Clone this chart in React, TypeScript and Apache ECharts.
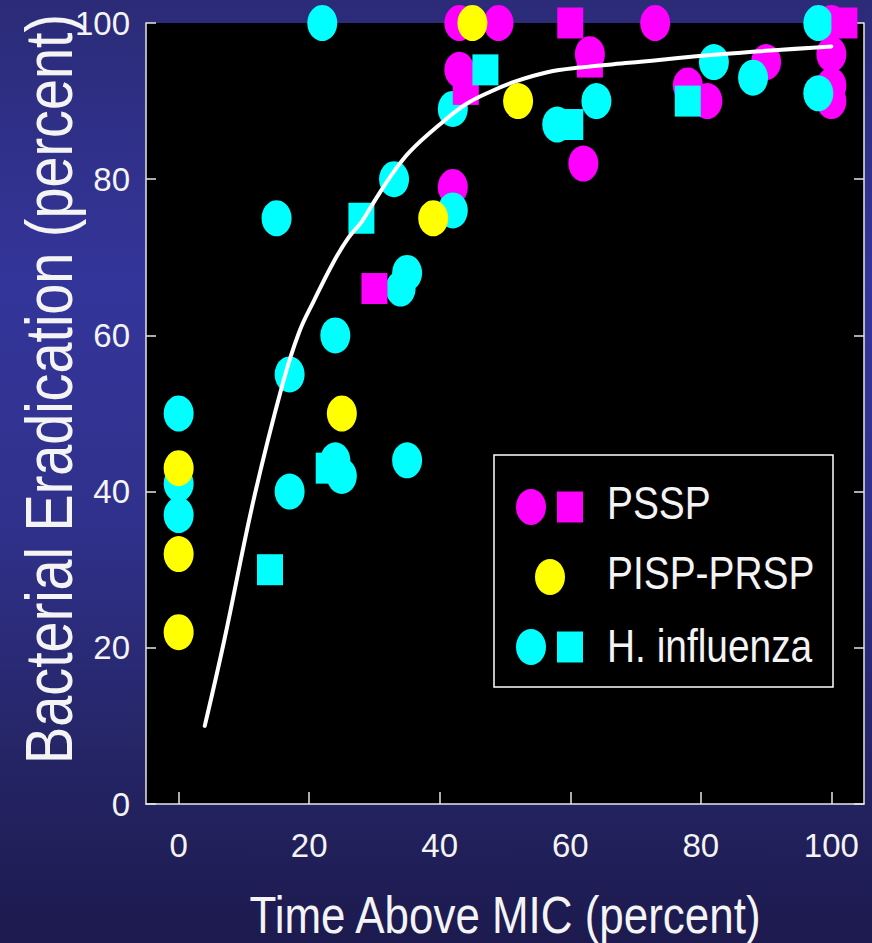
import React, { useEffect, useRef } from 'react';
import * as echarts from 'echarts';

const FONT = '"Liberation Sans", Arial, Helvetica, sans-serif';

const xTickValues = [0, 20, 40, 60, 80, 100];
const xTitle = 'Time Above MIC (percent)';
const yTitle = 'Bacterial Eradication (percent)';
const legendLabels = ['PSSP', 'PISP-PRSP', 'H. influenza'];

const psspCircles: number[][] = [
  [43, 100], [49, 100], [43, 94], [42, 79], [63, 96], [62, 82], [73, 100],
  [78, 92], [81, 90], [90, 95], [100, 100], [100, 96], [100, 92], [100, 90],
];
const psspSquares: number[][] = [
  [30, 66], [44, 91.5], [60, 100], [63, 95], [102, 100],
];
const pispCircles: number[][] = [
  [0, 43], [0, 32], [0, 22], [25, 50], [39, 75], [45, 100], [52, 90],
];
const hinfCircles: number[][] = [
  [22, 100], [15, 75], [33, 80], [42, 89], [42, 76], [35, 68], [34, 66],
  [58, 87], [64, 90], [82, 95], [88, 93], [98, 100], [98, 91], [24, 60],
  [17, 55], [0, 50], [0, 41], [0, 37], [24, 44], [25, 42], [35, 44], [17, 40],
];
const hinfSquares: number[][] = [
  [28, 75], [47, 94], [60, 87], [78, 90], [23, 43], [14, 30],
];
const fitCurve: number[][] = [
  [4, 10], [7, 21], [11.5, 39], [16, 54], [18.5, 60.5], [20.7, 64.4],
  [23.8, 69.5], [26, 72.5], [28, 74.5], [30, 77.2], [33, 81], [35.5, 83.6],
  [40, 87], [44, 89.6], [48, 91.3], [51.5, 92.5], [56.5, 93.7], [61.5, 94.3],
  [69, 94.9], [83, 96], [100, 97],
];

const MAGENTA = '#ff00ff';
const CYAN = '#00ffff';
const YELLOW = '#ffff00';
const AXIS_COLOR = '#e6e6e6';
const TEXT_COLOR = '#f4f4f4';

const ELLIPSE = [30, 36];
const SQUARE = [26, 31];
const NARROW = 0.845;

export default function App() {
  const ref = useRef<HTMLDivElement>(null);
  useEffect(() => {
    const chart = echarts.init(ref.current!, null, { renderer: 'svg' });
    const scatter = (name: string, data: number[][], color: string, symbol: string, size: number[], z: number) => ({
      type: 'scatter',
      name,
      data,
      symbol,
      symbolSize: size,
      clip: false,
      z,
      itemStyle: { color, opacity: 1 },
      emphasis: { disabled: true },
    });
    const legendText = (text: string, y: number) => ({
      type: 'text', x: 607, y, scaleX: NARROW,
      style: { text, fill: TEXT_COLOR, fontSize: 46, fontFamily: FONT, textVerticalAlign: 'middle' },
    });
    chart.setOption({
      animation: false,
      backgroundColor: 'transparent',
      textStyle: { fontFamily: FONT },
      grid: {
        left: 146, right: 8, top: 23, bottom: 139,
        show: true, backgroundColor: '#000000', borderWidth: 0,
      },
      xAxis: {
        type: 'value', min: -5, max: 105,
        splitLine: { show: false },
        axisLine: { show: true, onZero: false, lineStyle: { color: AXIS_COLOR, width: 1.5 } },
        axisTick: { show: true, inside: true, length: 12, customValues: xTickValues, lineStyle: { color: AXIS_COLOR, width: 1.5 } },
        axisLabel: { customValues: xTickValues, color: TEXT_COLOR, fontSize: 33, fontFamily: FONT, margin: 25 },
      },
      yAxis: [
        {
          type: 'value', min: 0, max: 100, interval: 20,
          splitLine: { show: false },
          axisLine: { show: true, onZero: false, lineStyle: { color: AXIS_COLOR, width: 1.5 } },
          axisTick: { show: true, inside: true, length: 10, lineStyle: { color: AXIS_COLOR, width: 1.5 } },
          axisLabel: { color: TEXT_COLOR, fontSize: 33, fontFamily: FONT, margin: 16 },
        },
        {
          type: 'value', min: 0, max: 100, interval: 20, position: 'right',
          splitLine: { show: false },
          axisLine: { show: true, onZero: false, lineStyle: { color: AXIS_COLOR, width: 1.5 } },
          axisTick: { show: true, inside: true, length: 10, lineStyle: { color: AXIS_COLOR, width: 1.5 } },
          axisLabel: { show: false },
        },
      ],
      series: [
        scatter('PSSP', psspCircles, MAGENTA, 'circle', ELLIPSE, 2),
        scatter('H. influenza', hinfCircles, CYAN, 'circle', ELLIPSE, 3),
        scatter('PISP-PRSP', pispCircles, YELLOW, 'circle', ELLIPSE, 4),
        scatter('PSSP squares', psspSquares, MAGENTA, 'rect', SQUARE, 5),
        scatter('H. influenza squares', hinfSquares, CYAN, 'rect', SQUARE, 6),
        {
          type: 'line',
          data: fitCurve,
          smooth: 0.4,
          showSymbol: false,
          symbol: 'none',
          z: 10,
          lineStyle: { color: '#ffffff', width: 4, cap: 'round' },
          emphasis: { disabled: true },
        },
      ],
      graphic: [
        {
          type: 'text',
          x: 49, y: 389,
          rotation: Math.PI / 2,
          scaleX: NARROW,
          style: {
            text: yTitle, fill: TEXT_COLOR, fontSize: 66, fontFamily: FONT,
            textAlign: 'center', textVerticalAlign: 'middle',
          },
          z: 20,
        },
        {
          type: 'text',
          x: 505, y: 915,
          scaleX: NARROW,
          style: {
            text: xTitle, fill: TEXT_COLOR, fontSize: 52, fontFamily: FONT,
            textAlign: 'center', textVerticalAlign: 'middle',
          },
          z: 20,
        },
        {
          type: 'group',
          z: 20,
          children: [
            { type: 'rect', shape: { x: 494, y: 455, width: 339, height: 232 }, style: { fill: '#000', stroke: '#ffffff', lineWidth: 1.5 } },
            { type: 'ellipse', shape: { cx: 531, cy: 507, rx: 15, ry: 18 }, style: { fill: MAGENTA } },
            { type: 'rect', shape: { x: 557, y: 491.5, width: 26, height: 31 }, style: { fill: MAGENTA } },
            { type: 'ellipse', shape: { cx: 550, cy: 577, rx: 15, ry: 18 }, style: { fill: YELLOW } },
            { type: 'ellipse', shape: { cx: 531, cy: 647, rx: 15, ry: 18 }, style: { fill: CYAN } },
            { type: 'rect', shape: { x: 557, y: 631.5, width: 26, height: 31 }, style: { fill: CYAN } },
            legendText(legendLabels[0], 503),
            legendText(legendLabels[1], 573),
            legendText(legendLabels[2], 646),
          ],
        },
      ],
    });
    return () => chart.dispose();
  }, []);
  return (
    <div
      style={{
        position: 'fixed', left: 0, top: 0, width: 872, height: 943,
        background: 'linear-gradient(to bottom, #2b2b78 0%, #34359a 30%, #30318c 55%, #252566 80%, #1c1a4e 100%)',
      }}
    >
      <div ref={ref} style={{ width: 872, height: 943 }} />
    </div>
  );
}
